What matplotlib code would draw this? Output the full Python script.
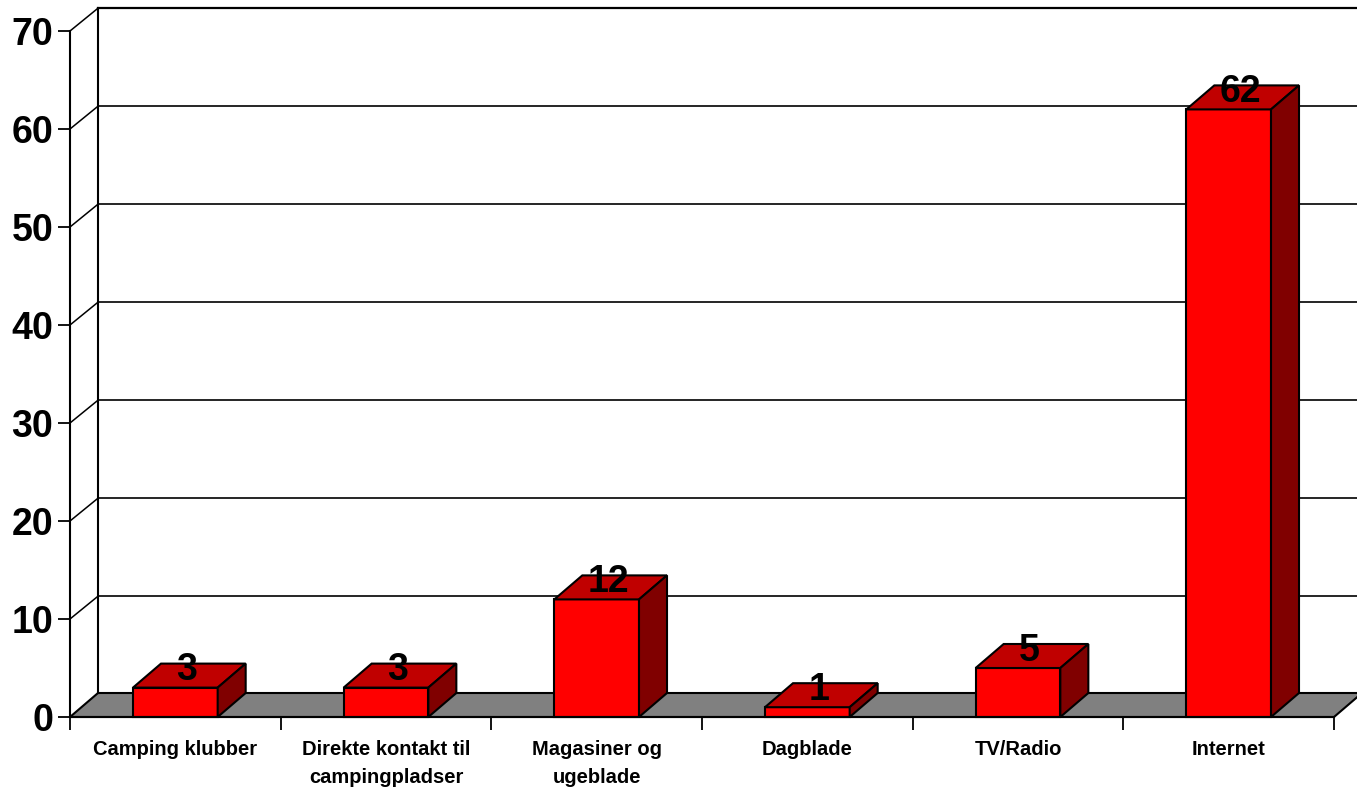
import matplotlib.pyplot as plt
from matplotlib.patches import Polygon

categories = ['Camping klubber', 'Direkte kontakt til\ncampingpladser', 'Magasiner og\nugeblade',
              'Dagblade', 'TV/Radio', 'Internet']
values = [3, 3, 12, 1, 5, 62]
y_ticks = [0, 10, 20, 30, 40, 50, 60, 70]

W, H = 1357, 789
DX = 28 / (1264 / 6)  # depth of the 3d effect, in data units
DY = 24 / 9.8
GRID_DY = 22.8 / 9.8
BAR_W = 0.402

plt.rcParams['font.family'] = ['Liberation Sans', 'DejaVu Sans']
plt.rcParams['font.weight'] = 'bold'

fig = plt.figure(figsize=(W / 100, H / 100), dpi=100)
ax = fig.add_axes([70 / W, 1 - 717 / H, 1264 / W, 686 / H])
ax.set_xlim(0, 6)
ax.set_ylim(0, 70)
ax.patch.set_visible(False)

# floor
ax.add_patch(Polygon([(0, 0), (6, 0), (6 + DX, DY), (DX, DY)], fc='#808080', ec='black', lw=1.5,
                     clip_on=False, zorder=1))
# back wall and side wall lines
ax.plot([DX, DX], [DY, 70 + GRID_DY], color='black', lw=1.5, clip_on=False, zorder=2)
for v in y_ticks[1:]:
    ax.plot([0, DX], [v, v + GRID_DY], color='black', lw=1.1, clip_on=False, zorder=2)
    ax.plot([DX, 6.5], [v + GRID_DY, v + GRID_DY], color='black', lw=1.2, clip_on=False, zorder=2)
ax.plot([DX, 6.5], [70 + GRID_DY, 70 + GRID_DY], color='black', lw=1.6, clip_on=False, zorder=2)

# bars
for i, v in enumerate(values):
    x0 = i + 0.5 - BAR_W / 2
    x1 = i + 0.5 + BAR_W / 2
    ax.add_patch(Polygon([(x0, 0), (x1, 0), (x1, v), (x0, v)], fc='#ff0000', ec='black', lw=1.5,
                         clip_on=False, zorder=3))
    ax.add_patch(Polygon([(x0, v), (x1, v), (x1 + DX, v + DY), (x0 + DX, v + DY)], fc='#c00000',
                         ec='black', lw=1.5, clip_on=False, zorder=3))
    ax.add_patch(Polygon([(x1, 0), (x1 + DX, DY), (x1 + DX, v + DY), (x1, v)], fc='#800000',
                         ec='black', lw=1.5, clip_on=False, zorder=3))
    ax.text(i + 0.5 + DX * 0.41, v + 1.75, str(v), ha='center', va='center', fontsize=27, zorder=4)

# axes
for s in ['top', 'right']:
    ax.spines[s].set_visible(False)
for s in ['left', 'bottom']:
    ax.spines[s].set_linewidth(1.5)
    ax.spines[s].set_zorder(5)
ax.set_yticks(y_ticks)
ax.tick_params(axis='y', length=8.6, width=1.3, labelsize=27, pad=3.5)
ax.set_xticks(range(7))
ax.set_xticklabels([])
ax.tick_params(axis='x', which='major', length=9, width=1.3)
ax.set_xticks([i + 0.5 for i in range(6)], categories, minor=True)
ax.tick_params(axis='x', which='minor', length=0, labelsize=14.5, pad=16.3)
for label in ax.get_xticklabels(minor=True):
    label.set_linespacing(1.65)

fig.savefig('out.png', dpi=100)
